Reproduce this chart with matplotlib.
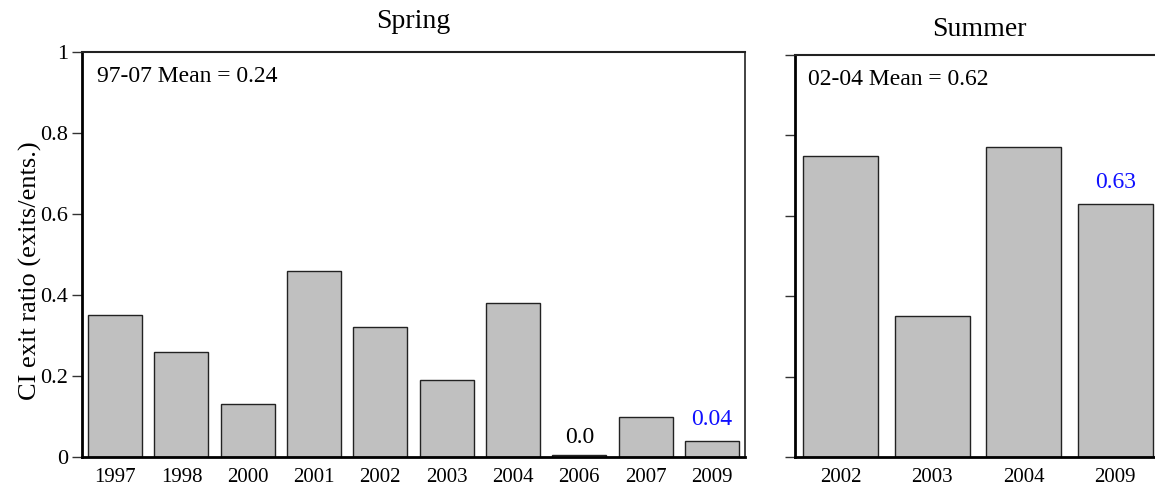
import matplotlib
matplotlib.use("Agg")
import matplotlib.pyplot as plt

plt.rcParams['font.family'] = ['Liberation Serif', 'DejaVu Serif']

spring_years = ["1997", "1998", "2000", "2001", "2002", "2003", "2004", "2006", "2007", "2009"]
spring_vals = [0.35, 0.26, 0.13, 0.46, 0.32, 0.19, 0.38, 0.005, 0.10, 0.04]
summer_years = ["2002", "2003", "2004", "2009"]
summer_vals = [0.75, 0.35, 0.77, 0.63]
spring_mean_text = "97-07 Mean = 0.24"
summer_mean_text = "02-04 Mean = 0.62"
yticks = [0, 0.2, 0.4, 0.6, 0.8, 1.0]
ytick_labels = ["0", "0.2", "0.4", "0.6", "0.8", "1"]

W, H = 1155, 495
fig = plt.figure(figsize=(W / 100, H / 100), dpi=100)

ax1 = fig.add_axes([82 / W, 1 - 457 / H, (745 - 82) / W, (457 - 52) / H])
ax2 = fig.add_axes([795 / W, 1 - 457 / H, (1161 - 795) / W, (457 - 55) / H])

bar_color = "#c0c0c0"
edge = "#222222"

def style(ax, labels):
    ax.set_ylim(0, 1)
    ax.set_xlim(-0.5, len(labels) - 0.5)
    ax.set_xticks(range(len(labels)))
    ax.set_xticklabels(labels, fontsize=15)
    ax.tick_params(axis='x', length=0, pad=8)
    ax.set_yticks(yticks)
    ax.tick_params(axis='y', direction='out', length=7, width=1, color='#333333', pad=3)
    for s in ['left', 'bottom']:
        ax.spines[s].set_linewidth(2.0)
        ax.spines[s].set_color('black')
    ax.spines['top'].set_linewidth(1.5)
    ax.spines['top'].set_color('#222222')
    ax.spines['right'].set_linewidth(1.2)
    ax.spines['right'].set_color('#222222')

ax1.bar(range(len(spring_vals)), spring_vals, width=0.815, color=bar_color,
        edgecolor=edge, linewidth=1.0, zorder=2)
style(ax1, spring_years)
ax1.set_yticklabels(ytick_labels, fontsize=16)
ax1.text(0.022, 0.94, spring_mean_text, transform=ax1.transAxes, fontsize=17,
         va='center', ha='left')
ax1.annotate("0.0", (7, spring_vals[7]), xytext=(0, 5), textcoords='offset points',
             ha='center', va='bottom', fontsize=17, color='black')
ax1.annotate("0.04", (9, spring_vals[9]), xytext=(0, 8), textcoords='offset points',
             ha='center', va='bottom', fontsize=17, color='#1010ff')

ax2.bar(range(len(summer_vals)), summer_vals, width=0.82, color=bar_color,
        edgecolor=edge, linewidth=1.0, zorder=2)
style(ax2, summer_years)
ax2.set_yticklabels([])
ax2.spines['right'].set_visible(False)
ax2.text(13 / 366, 0.94, summer_mean_text, transform=ax2.transAxes, fontsize=17,
         va='center', ha='left')
ax2.annotate("0.63", (3, summer_vals[3]), xytext=(0, 8), textcoords='offset points',
             ha='center', va='bottom', fontsize=17, color='#1010ff')

fig.text(30 / W, 1 - 271 / H, "CI exit ratio (exits/ents.)", rotation=90,
         ha='center', va='center', fontsize=19)
fig.text(413 / W, 1 - 22 / H, "Spring", ha='center', va='center', fontsize=20)
fig.text(979 / W, 1 - 30 / H, "Summer", ha='center', va='center', fontsize=20)

fig.savefig("out.png", dpi=100)
